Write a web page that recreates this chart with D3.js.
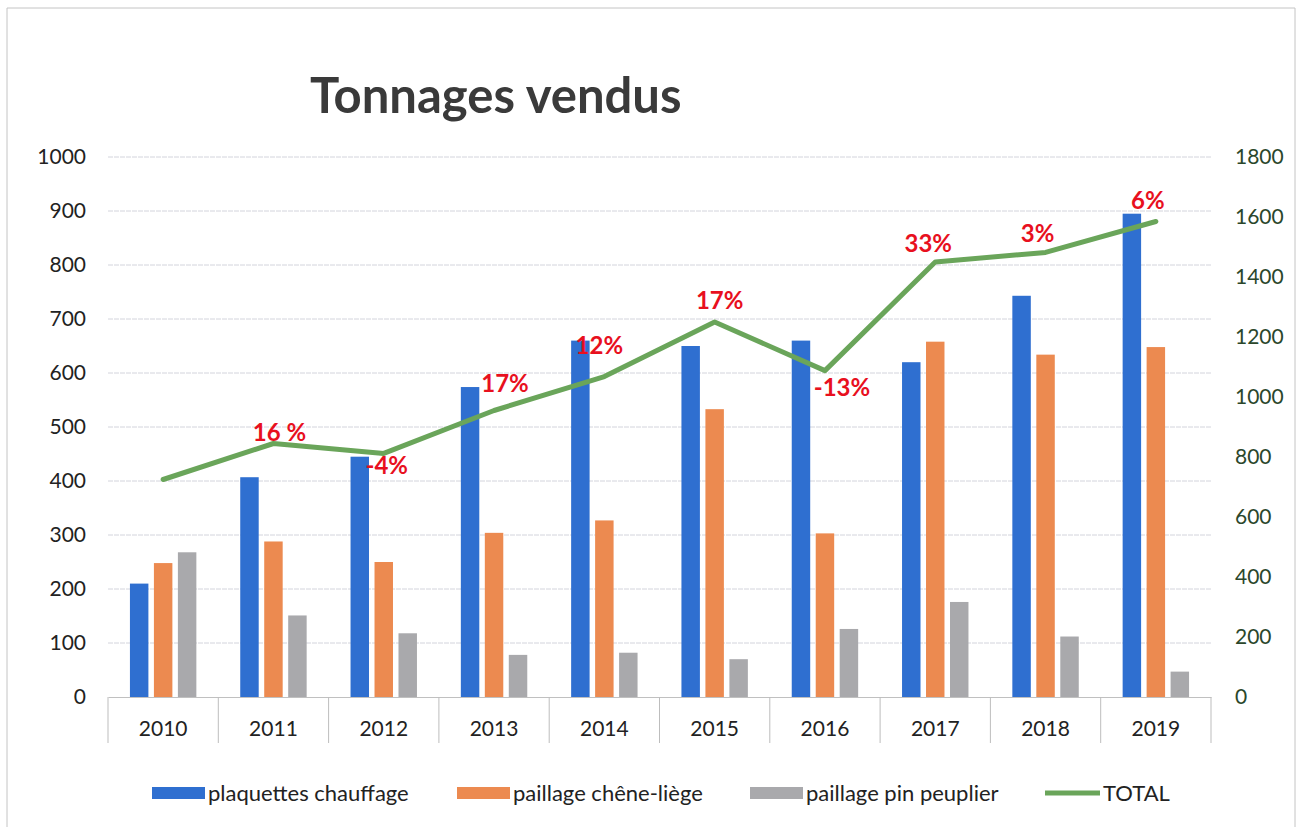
<!DOCTYPE html>
<html>
<head>
<meta charset="utf-8">
<script src="https://cdn.jsdelivr.net/npm/d3@7"></script>
<style>
  body { margin: 0; background: #fff; }
  text { font-family: Lato, "Open Sans", sans-serif; }
</style>
</head>
<body>
<div id="chart"></div>
<script>
// values
var years = ["2010", "2011", "2012", "2013", "2014", "2015", "2016", "2017", "2018", "2019"];
var plaquettes = [210, 407, 445, 574, 660, 650, 660, 620, 743, 895];
var chene = [248, 288, 250, 304, 327, 533, 303, 658, 634, 648];
var pin = [268, 151, 118, 78, 82, 70, 126, 176, 112, 47];
var total = [725, 845, 812, 955, 1068, 1250, 1088, 1450, 1482, 1585];
var variation = ["", "16 %", "-4%", "17%", "12%", "17%", "-13%", "33%", "3%", "6%"];
var leftTicks = [0, 100, 200, 300, 400, 500, 600, 700, 800, 900, 1000];
var rightTicks = [0, 200, 400, 600, 800, 1000, 1200, 1400, 1600, 1800];
var seriesNames = ["plaquettes chauffage", "paillage chêne-liège", "paillage pin peuplier", "TOTAL"];

var colors = ["#2f6fd0", "#ec8a50", "#a9a9ac", "#6aa55a"];

var W = 1299, H = 827;
var plot = { left: 108, right: 1211, top: 157, bottom: 697 };

var svg = d3.select("#chart").append("svg")
    .attr("width", W)
    .attr("height", H);

// faint frame of the scanned chart
svg.append("path")
    .attr("d", "M7,827 V8 H1295 V827")
    .attr("fill", "none")
    .attr("stroke", "#c4c4c4")
    .attr("stroke-width", 1);

var x0 = d3.scaleBand().domain(years).range([plot.left, plot.right]);
var x1 = d3.scaleBand().domain([0, 1, 2]).range([0, x0.bandwidth()])
    .paddingInner(0.23).paddingOuter(0.915);
var yL = d3.scaleLinear().domain([0, 1000]).range([plot.bottom, plot.top]);
var yR = d3.scaleLinear().domain([0, 1800]).range([plot.bottom, plot.top]);

// title
svg.append("text")
    .attr("x", 310)
    .attr("y", 113)
    .attr("font-size", 49)
    .attr("font-weight", "bold")
    .attr("fill", "#3a3a3a")
    .text("Tonnages vendus");

// gridlines
svg.append("g").selectAll("line")
    .data(leftTicks.slice(1))
    .enter().append("line")
    .attr("x1", plot.left).attr("x2", plot.right)
    .attr("y1", function(d) { return yL(d); })
    .attr("y2", function(d) { return yL(d); })
    .attr("stroke", "#d3d4dc")
    .attr("stroke-width", 1)
    .attr("stroke-dasharray", "5,1");

// left axis
var axL = svg.append("g")
    .attr("transform", "translate(" + plot.left + ",0)")
    .call(d3.axisLeft(yL).tickValues(leftTicks).tickFormat(d3.format("d")).tickSize(0).tickPadding(22));
axL.select(".domain").remove();
axL.selectAll("text").attr("font-size", 21).attr("fill", "#222")
    .style("font-family", "Lato, sans-serif");

// right axis
var axR = svg.append("g")
    .attr("transform", "translate(" + plot.right + ",0)")
    .call(d3.axisRight(yR).tickValues(rightTicks).tickFormat(d3.format("d")).tickSize(0).tickPadding(24));
axR.select(".domain").remove();
axR.selectAll("text").attr("font-size", 21).attr("fill", "#2b472b")
    .style("font-family", "Lato, sans-serif");

// bottom category axis, table style
var axB = svg.append("g")
    .attr("transform", "translate(0," + plot.bottom + ")")
    .call(d3.axisBottom(x0).tickSize(0).tickPadding(24));
axB.select(".domain").attr("stroke", "#c0c0c0");
axB.selectAll("text").attr("font-size", 21).attr("fill", "#222")
    .style("font-family", "Lato, sans-serif");

svg.append("g").selectAll("line")
    .data(years.concat(["end"]))
    .enter().append("line")
    .attr("x1", function(d) { return d === "end" ? plot.right : x0(d); })
    .attr("x2", function(d) { return d === "end" ? plot.right : x0(d); })
    .attr("y1", plot.bottom)
    .attr("y2", plot.bottom + 46)
    .attr("stroke", "#bdbdbd")
    .attr("stroke-width", 1);

// bars
var barSeries = [plaquettes, chene, pin];
var groups = svg.append("g").selectAll("g")
    .data(years)
    .enter().append("g")
    .attr("transform", function(d) { return "translate(" + x0(d) + ",0)"; });

groups.selectAll("rect")
    .data(function(d, i) { return barSeries.map(function(s, k) { return { k: k, v: s[i] }; }); })
    .enter().append("rect")
    .attr("class", "bar")
    .attr("x", function(d) { return x1(d.k); })
    .attr("y", function(d) { return yL(d.v); })
    .attr("width", x1.bandwidth())
    .attr("height", function(d) { return plot.bottom - yL(d.v); })
    .attr("fill", function(d) { return colors[d.k]; });

// total line (right axis)
var line = d3.line()
    .x(function(d, i) { return x0(years[i]) + x0.bandwidth() / 2; })
    .y(function(d) { return yR(d); });

svg.append("path")
    .datum(total)
    .attr("d", line)
    .attr("fill", "none")
    .attr("stroke", colors[3])
    .attr("stroke-width", 5)
    .attr("stroke-linejoin", "round")
    .attr("stroke-linecap", "round");

// year-on-year labels, moved by hand in the original
var labelShift = [[0, 0], [6, -11], [3, 12], [11, -27], [-5, -31], [5, -21], [17, 17], [-7, -18], [-8, -19], [-8, -21]];
svg.append("g").selectAll("text")
    .data(variation)
    .enter().append("text")
    .attr("x", function(d, i) { return x0(years[i]) + x0.bandwidth() / 2 + labelShift[i][0]; })
    .attr("y", function(d, i) { return yR(total[i]) + labelShift[i][1]; })
    .attr("dy", "0.35em")
    .attr("text-anchor", "middle")
    .attr("font-size", 24)
    .attr("font-weight", "bold")
    .attr("fill", "#e8101e")
    .text(function(d) { return d; });

// legend
var legendX = [152, 457, 750, 1045];
var legend = svg.append("g").selectAll("g")
    .data(seriesNames)
    .enter().append("g")
    .attr("transform", function(d, i) { return "translate(" + legendX[i] + ",793)"; });

legend.each(function(d, i) {
    var g = d3.select(this);
    if (i < 3) {
        g.append("rect").attr("x", 0).attr("y", -6).attr("width", 53).attr("height", 12)
            .attr("fill", colors[i]);
    } else {
        g.append("line").attr("x1", 0).attr("x2", 55).attr("y1", 0).attr("y2", 0)
            .attr("stroke", colors[3]).attr("stroke-width", 5);
    }
    g.append("text")
        .attr("x", i < 3 ? 56 : 58)
        .attr("y", 0)
        .attr("dy", "0.35em")
        .attr("font-size", 22)
        .attr("fill", "#222")
        .text(d);
});
</script>
</body>
</html>
